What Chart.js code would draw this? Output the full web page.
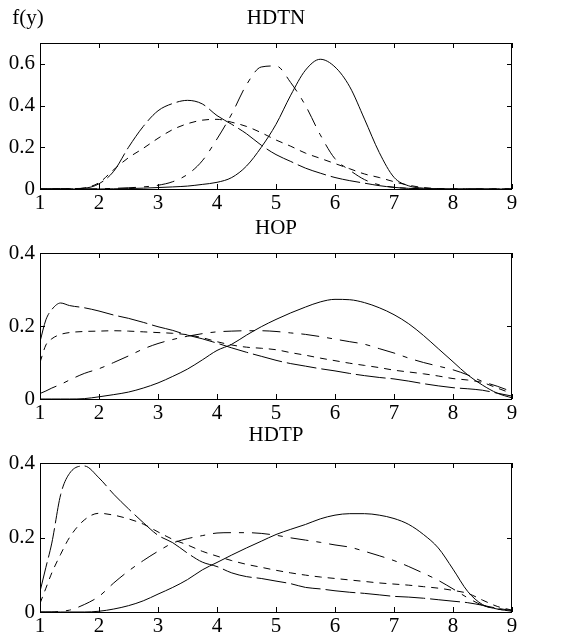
<!DOCTYPE html>
<html>
<head>
<meta charset="utf-8">
<script src="https://cdn.jsdelivr.net/npm/chart.js@4"></script>
<style>
	html, body { margin: 0; padding: 0; background: #fff; }
	body { width: 570px; height: 635px; position: relative; overflow: hidden; }
	canvas { position: absolute; left: 0; }
</style>
</head>
<body>
<canvas id="chart-hdtn" width="570" height="212" style="top:0;width:570px;height:212px"></canvas>
<canvas id="chart-hop" width="570" height="210" style="top:212px;width:570px;height:210px"></canvas>
<canvas id="chart-hdtp" width="570" height="213" style="top:422px;width:570px;height:213px"></canvas>
<script>
// shared x grid (y values) for every curve
const xs = [1, 1.1, 1.2, 1.35, 1.5, 1.75, 2, 2.25, 2.5, 2.75, 3, 3.25, 3.5, 3.75, 4, 4.25, 4.5, 4.75,
	5, 5.25, 5.5, 5.75, 6, 6.25, 6.5, 6.75, 7, 7.25, 7.5, 7.75, 8, 8.25, 8.5, 8.75, 9];

const xTicks = [1, 2, 3, 4, 5, 6, 7, 8, 9];
const yTicksHdtn = [0, 0.2, 0.4, 0.6];
const yTicksLow = [0, 0.2, 0.4];

// HDTN
const hdtnSolid = [0, 0, 0, 0, 0, 0, 0, 0.001, 0.002, 0.004, 0.007, 0.01, 0.014, 0.022, 0.032, 0.055, 0.11, 0.2,
	0.31, 0.45, 0.57, 0.622, 0.585, 0.49, 0.335, 0.175, 0.056, 0.015, 0.004, 0.001, 0, 0, 0, 0, 0];
const hdtnLong = [0, 0, 0.001, 0.002, 0.002, 0.004, 0.025, 0.085, 0.2, 0.3, 0.375, 0.41, 0.425, 0.408, 0.352, 0.31, 0.265, 0.21,
	0.165, 0.132, 0.1, 0.076, 0.055, 0.04, 0.028, 0.016, 0.008, 0.003, 0.001, 0, 0, 0, 0, 0, 0];
const hdtnDashDot = [0, 0, 0, 0, 0, 0, 0.001, 0.003, 0.006, 0.01, 0.018, 0.035, 0.07, 0.135, 0.24, 0.36, 0.5, 0.585,
	0.59, 0.51, 0.4, 0.26, 0.145, 0.09, 0.045, 0.02, 0.008, 0.003, 0.001, 0, 0, 0, 0, 0, 0];
const hdtnShort = [0, 0, 0, 0, 0, 0.005, 0.03, 0.093, 0.15, 0.195, 0.243, 0.285, 0.313, 0.33, 0.334, 0.32, 0.3, 0.27,
	0.235, 0.205, 0.172, 0.147, 0.122, 0.097, 0.072, 0.055, 0.035, 0.018, 0.007, 0.002, 0, 0, 0, 0, 0];

// HOP
const hopSolid = [0, 0, 0, 0, 0, 0.001, 0.006, 0.012, 0.019, 0.03, 0.044, 0.062, 0.082, 0.107, 0.133, 0.15, 0.175, 0.198,
	0.218, 0.236, 0.252, 0.266, 0.273, 0.272, 0.264, 0.25, 0.231, 0.206, 0.174, 0.138, 0.102, 0.066, 0.038, 0.016, 0.003];
const hopLong = [0.157, 0.217, 0.245, 0.263, 0.256, 0.25, 0.241, 0.23, 0.221, 0.21, 0.198, 0.188, 0.175, 0.165, 0.153, 0.14, 0.128, 0.117,
	0.106, 0.097, 0.09, 0.083, 0.077, 0.07, 0.064, 0.059, 0.055, 0.049, 0.042, 0.036, 0.031, 0.028, 0.024, 0.016, 0.008];
const hopDashDot = [0.015, 0.022, 0.03, 0.04, 0.052, 0.07, 0.083, 0.1, 0.118, 0.137, 0.152, 0.163, 0.172, 0.179, 0.184, 0.186, 0.187, 0.187,
	0.185, 0.181, 0.177, 0.171, 0.164, 0.157, 0.15, 0.138, 0.126, 0.112, 0.1, 0.09, 0.08, 0.066, 0.048, 0.035, 0.02];
const hopShort = [0.1, 0.148, 0.165, 0.177, 0.182, 0.185, 0.186, 0.187, 0.186, 0.184, 0.182, 0.18, 0.176, 0.168, 0.157, 0.148, 0.142, 0.139,
	0.135, 0.127, 0.12, 0.112, 0.105, 0.098, 0.092, 0.086, 0.079, 0.074, 0.069, 0.063, 0.056, 0.052, 0.045, 0.03, 0.015];

// HDTP
const hdtpSolid = [0, 0, 0, 0, 0, 0, 0.002, 0.008, 0.017, 0.03, 0.048, 0.066, 0.087, 0.113, 0.133, 0.153, 0.172, 0.19,
	0.208, 0.222, 0.235, 0.25, 0.26, 0.264, 0.264, 0.26, 0.251, 0.235, 0.208, 0.172, 0.115, 0.055, 0.02, 0.008, 0.002];
const hdtpLong = [0.055, 0.12, 0.185, 0.315, 0.372, 0.392, 0.36, 0.316, 0.277, 0.24, 0.206, 0.186, 0.158, 0.134, 0.122, 0.105, 0.095, 0.09,
	0.083, 0.076, 0.066, 0.062, 0.057, 0.053, 0.05, 0.046, 0.042, 0.04, 0.037, 0.033, 0.029, 0.025, 0.018, 0.01, 0.004];
const hdtpDashDot = [0, 0, 0, 0.002, 0.005, 0.02, 0.042, 0.078, 0.11, 0.138, 0.163, 0.185, 0.197, 0.205, 0.212, 0.213, 0.213, 0.211,
	0.206, 0.199, 0.193, 0.187, 0.18, 0.174, 0.163, 0.151, 0.138, 0.122, 0.104, 0.085, 0.062, 0.038, 0.018, 0.008, 0.003];
const hdtpShort = [0.023, 0.064, 0.105, 0.155, 0.2, 0.247, 0.265, 0.26, 0.25, 0.236, 0.215, 0.195, 0.18, 0.163, 0.15, 0.138, 0.128, 0.12,
	0.112, 0.105, 0.099, 0.094, 0.09, 0.086, 0.082, 0.078, 0.075, 0.072, 0.068, 0.064, 0.058, 0.05, 0.032, 0.015, 0.005];

// line styles, in series order: solid, long dash, dash-dot, short dash
const dashes = [[], [30, 5], [18, 8, 5, 8], [7, 6]];

const serif = "'Liberation Serif', 'Times New Roman', serif";
Chart.defaults.font.family = serif;
Chart.defaults.font.size = 21;
Chart.defaults.color = '#000';

// MATLAB style box with inward tick marks on all four sides, plus panel title
const boxPlugin = {
	id: 'matlabBox',
	afterDatasetsDraw(chart, args, opts) {
		const { ctx, chartArea: a, scales } = chart;
		const len = 5;
		ctx.save();
		ctx.strokeStyle = '#000';
		ctx.lineWidth = 1;
		ctx.strokeRect(a.left + 0.5, a.top + 0.5, a.right - a.left - 1, a.bottom - a.top);
		ctx.beginPath();
		scales.x.ticks.forEach((t) => {
			const px = Math.round(scales.x.getPixelForValue(t.value)) + 0.5;
			ctx.moveTo(px, a.bottom);
			ctx.lineTo(px, a.bottom - len);
			ctx.moveTo(px, a.top);
			ctx.lineTo(px, a.top + len);
		});
		scales.y.ticks.forEach((t) => {
			const py = Math.round(scales.y.getPixelForValue(t.value)) + 0.5;
			ctx.moveTo(a.left, py);
			ctx.lineTo(a.left + len, py);
			ctx.moveTo(a.right, py);
			ctx.lineTo(a.right - len, py);
		});
		ctx.stroke();

		ctx.fillStyle = '#000';
		ctx.font = `21px ${serif}`;
		ctx.textAlign = 'center';
		ctx.textBaseline = 'middle';
		ctx.fillText(opts.title, (a.left + a.right) / 2, opts.titleY);
		if (opts.corner) {
			ctx.fillText(opts.corner, opts.cornerX, opts.cornerY);
		}
		ctx.restore();
	}
};

function makeDatasets(series) {
	return series.map((values, i) => ({
		data: xs.map((x, j) => ({ x, y: values[j] })),
		borderColor: '#000',
		borderWidth: 1,
		borderDash: dashes[i],
		pointRadius: 0,
		fill: false,
		cubicInterpolationMode: 'monotone',
		tension: 0.4
	}));
}

function renderPanel(canvasId, series, yMax, yTicks, top, label) {
	const ctx = document.getElementById(canvasId).getContext('2d');
	return new Chart(ctx, {
		type: 'line',
		data: { datasets: makeDatasets(series) },
		plugins: [boxPlugin],
		options: {
			responsive: false,
			animation: false,
			layout: { padding: { left: 0, right: 58, top, bottom: 0 } },
			plugins: {
				legend: { display: false },
				tooltip: { enabled: false },
				title: { display: false },
				matlabBox: label
			},
			scales: {
				x: {
					type: 'linear',
					min: 1,
					max: 9,
					grid: { display: false, drawTicks: false },
					border: { display: false },
					afterBuildTicks: (scale) => { scale.ticks = xTicks.map((v) => ({ value: v })); },
					afterFit: (scale) => { scale.height = 23; },
					ticks: { padding: 2, maxRotation: 0, color: '#000', callback: (v) => String(v) }
				},
				y: {
					min: 0,
					max: yMax,
					grid: { display: false, drawTicks: false },
					border: { display: false },
					afterBuildTicks: (scale) => { scale.ticks = yTicks.map((v) => ({ value: v })); },
					afterFit: (scale) => { scale.width = 40; },
					ticks: { padding: 5, color: '#000', callback: (v) => String(+v.toFixed(1)) }
				}
			}
		}
	});
}

renderPanel('chart-hdtn', [hdtnSolid, hdtnLong, hdtnDashDot, hdtnShort], 0.7, yTicksHdtn, 43,
	{ title: 'HDTN', titleY: 18, corner: 'f(y)', cornerX: 28, cornerY: 18 });
renderPanel('chart-hop', [hopSolid, hopLong, hopDashDot, hopShort], 0.4, yTicksLow, 41,
	{ title: 'HOP', titleY: 16 });
renderPanel('chart-hdtp', [hdtpSolid, hdtpLong, hdtpDashDot, hdtpShort], 0.4, yTicksLow, 41,
	{ title: 'HDTP', titleY: 13 });
</script>
</body>
</html>
